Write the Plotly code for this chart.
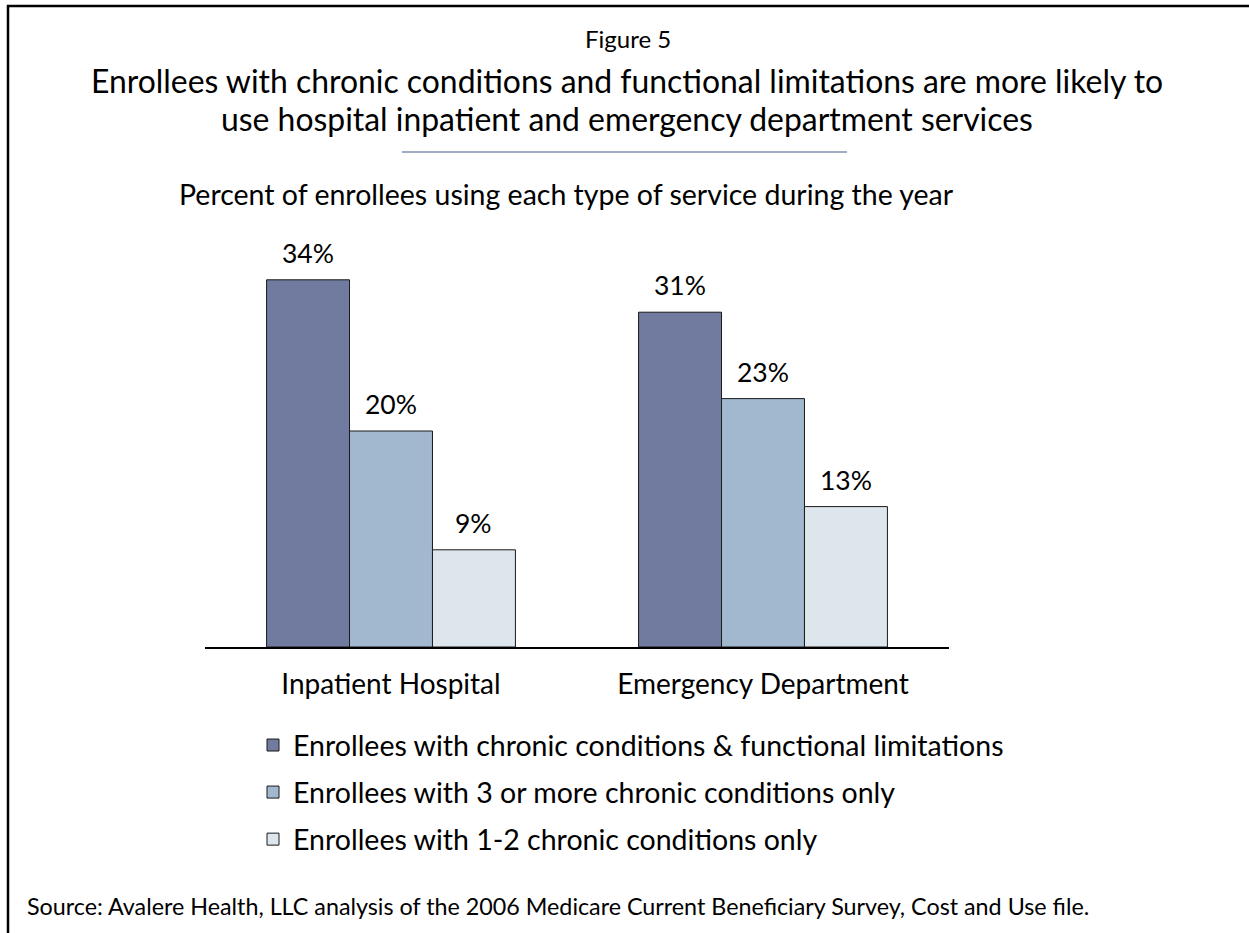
import plotly.graph_objects as go

categories = ["Inpatient Hospital", "Emergency Department"]
series_names = [
    "Enrollees with chronic conditions & functional limitations",
    "Enrollees with 3 or more chronic conditions only",
    "Enrollees with 1-2 chronic conditions only",
]
chronic_functional = [34, 31]
three_plus = [20, 23]
one_two = [9, 13]
series_values = [chronic_functional, three_plus, one_two]
colors = ["#717a9f", "#a2b8cf", "#dde6ec"]

W, H = 1249, 933
L, R, T, B = 205, 949, 200, 647
FONT = "Lato, Carlito, Calibri, sans-serif"


def px(x):
    return (x - L) / (R - L)


def py(y):
    return (B - y) / (B - T)


fig = go.Figure()
for i, (name, vals) in enumerate(zip(series_names, series_values)):
    fig.add_trace(go.Bar(
        x=categories, y=vals, name=name,
        marker=dict(color=colors[i], line=dict(color="#1a1a1a", width=1)),
        legendgroup=f"g{i}",
    ))

annotations = []
bar_px = (R - L) / len(categories) * (1 - 0.331) / 3
for i, vals in enumerate(series_values):
    for j, v in enumerate(vals):
        annotations.append(dict(
            x=j, y=v, xref="x", yref="y", text=f"{v}%", showarrow=False,
            xshift=(i - 1) * bar_px, yshift=9, yanchor="bottom", xanchor="center",
            font=dict(size=26.5, color="black", family=FONT),
        ))

texts = [
    ("Figure 5", 628, 39, 24, "center"),
    ("Enrollees with chronic conditions and functional limitations are more likely to", 627, 81, 31.9, "center"),
    ("use hospital inpatient and emergency department services", 627, 119, 31.9, "center"),
    ("Percent of enrollees using each type of service during the year", 566, 194, 28.5, "center"),
]
for t, x, y, s, a in texts:
    annotations.append(dict(text=t, x=px(x), y=py(y), xref="paper", yref="paper",
                            xanchor=a, yanchor="middle", showarrow=False,
                            font=dict(size=s, color="black", family=FONT)))
annotations.append(dict(
    text="Source: Avalere Health, LLC analysis of the 2006 Medicare Current Beneficiary Survey, Cost and Use file.",
    x=px(25), y=py(906), xref="paper", yref="paper", xanchor="left", yanchor="middle",
    showarrow=False, font=dict(size=23.3, color="black", family=FONT)))

shapes = [
    dict(type="rect", xref="paper", yref="paper", x0=px(8), x1=px(1265), y0=py(6), y1=py(950),
         line=dict(color="black", width=2.5), fillcolor="rgba(0,0,0,0)"),
    dict(type="line", xref="paper", yref="paper", x0=px(402), x1=px(847), y0=py(152), y1=py(152),
         line=dict(color="#a3aac3", width=2)),
]

fig.update_layout(
    width=W, height=H,
    margin=dict(l=L, r=W - R, t=T, b=H - B, autoexpand=False),
    paper_bgcolor="white", plot_bgcolor="white",
    barmode="group", bargap=0.331, bargroupgap=0,
    font=dict(family=FONT, color="black"),
    xaxis=dict(showline=True, linecolor="black", linewidth=1.5, ticks="",
               tickfont=dict(size=28, color="black", family=FONT), ticklabelstandoff=12,
               showgrid=False, zeroline=False),
    yaxis=dict(range=[0, (B - T) / 10.8], visible=False, showgrid=False, zeroline=False),
    showlegend=True,
    legend=dict(x=px(253), y=py(720), xanchor="left", yanchor="top",
                font=dict(size=28.5, color="black", family=FONT),
                tracegroupgap=7, traceorder="grouped", bgcolor="rgba(0,0,0,0)"),
    annotations=annotations, shapes=shapes,
)

fig.write_html("out.html")
